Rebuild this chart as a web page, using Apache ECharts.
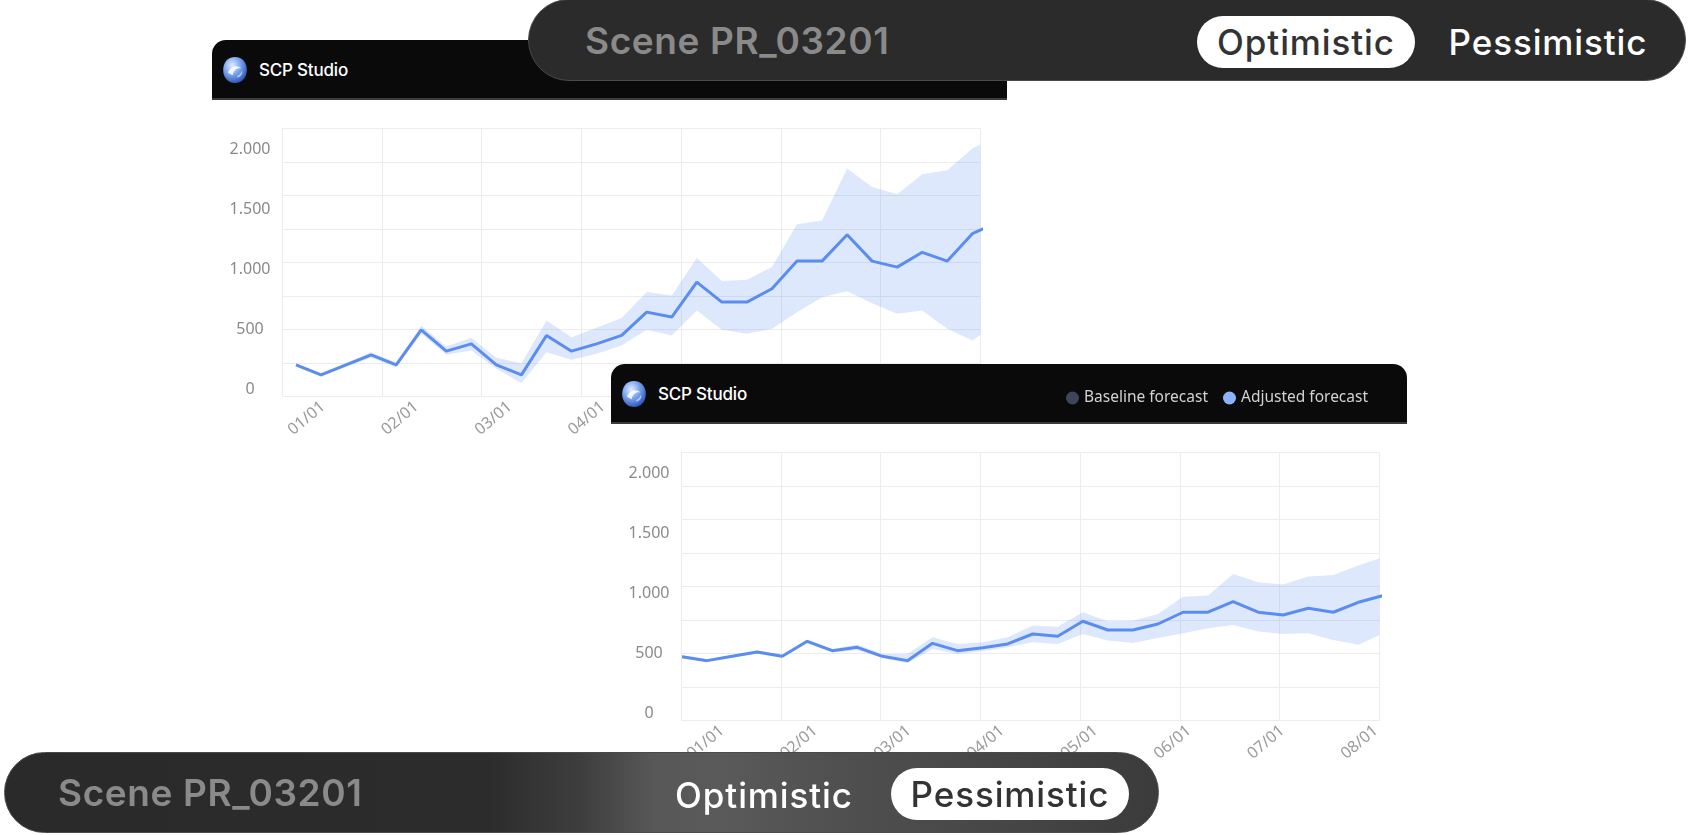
<!DOCTYPE html>
<html>
<head>
<meta charset="utf-8">
<script src="https://cdn.jsdelivr.net/npm/echarts@6/dist/echarts.min.js"></script>
<style>
html,body{margin:0;padding:0;width:1688px;height:835px;overflow:hidden;background:#ffffff;}
.card{position:absolute;background:#ffffff;}
.hdr{position:absolute;left:0;top:0;width:100%;height:58px;background:#0a0a0b;border-bottom:2.4px solid #3b3b3d;border-radius:14px 14px 0 0;}
.brand{position:absolute;left:10px;top:16px;height:28px;display:flex;align-items:center;font-family:Inter,"Noto Sans",sans-serif;font-weight:500;font-size:17px;color:#ffffff;letter-spacing:-0.2px;}
.brand svg{margin-right:11px;}
.chart{position:absolute;left:0;top:0;width:100%;height:100%;}
.pill{position:absolute;box-sizing:border-box;font-family:Inter,"Noto Sans",sans-serif;}
.pill .scene{position:absolute;top:0;height:100%;display:flex;align-items:center;font-size:37px;font-weight:600;color:#8a8a8a;letter-spacing:0.6px;}
.pill .opt{position:absolute;display:flex;align-items:center;justify-content:center;font-size:35px;font-weight:500;letter-spacing:0.9px;}
</style>
</head>
<body>

<div class="card" id="card1" style="left:212px;top:40px;width:795px;height:430px;z-index:1;">
  <div class="hdr" style="border-radius:14px 0 0 0;">
    <div class="brand"><svg width="26" height="28" viewBox="0 0 24 26"><defs><radialGradient id="lg1" cx="38%" cy="32%" r="78%"><stop offset="0" stop-color="#e2ecff"/><stop offset="0.4" stop-color="#86aef4"/><stop offset="1" stop-color="#1c46ad"/></radialGradient></defs><path d="M12 1C19 1 23 6.5 23 13C23 19.5 19 25 12 25C5 25 1 19.5 1 13C1 6.5 5 1 12 1Z" fill="url(#lg1)"/><path d="M5.5 15.5C7.5 9.5 13.5 7.5 18 11.5C14 10.5 10.8 12.8 9.8 17.8Z" fill="#ffffff" opacity="0.85"/><path d="M14 18.5C16.5 17.5 18 15.5 18.5 13.5C19.5 16.5 17.5 19.5 14 20Z" fill="#d6e4ff" opacity="0.7"/></svg>SCP Studio</div>
  </div>
  <div class="chart" id="chart1"></div>
</div>

<div class="pill" style="left:528px;top:-1px;width:1158px;height:82px;border-radius:41px;background:#2b2b2c;border:1.5px solid #4a4a4c;z-index:2;">
  <div class="scene" style="left:56px;">Scene PR_03201</div>
  <div class="opt" style="left:668px;top:16px;width:218px;height:52px;border-radius:26px;background:#ffffff;color:#333333;">Optimistic</div>
  <div class="opt" style="left:916px;top:16px;width:206px;height:52px;color:#ffffff;">Pessimistic</div>
</div>

<div class="card" id="card2" style="left:611px;top:364px;width:796px;height:480px;z-index:3;">
  <div class="hdr">
    <div class="brand"><svg width="26" height="28" viewBox="0 0 24 26"><defs><radialGradient id="lg2" cx="38%" cy="32%" r="78%"><stop offset="0" stop-color="#e2ecff"/><stop offset="0.4" stop-color="#86aef4"/><stop offset="1" stop-color="#1c46ad"/></radialGradient></defs><path d="M12 1C19 1 23 6.5 23 13C23 19.5 19 25 12 25C5 25 1 19.5 1 13C1 6.5 5 1 12 1Z" fill="url(#lg2)"/><path d="M5.5 15.5C7.5 9.5 13.5 7.5 18 11.5C14 10.5 10.8 12.8 9.8 17.8Z" fill="#ffffff" opacity="0.85"/><path d="M14 18.5C16.5 17.5 18 15.5 18.5 13.5C19.5 16.5 17.5 19.5 14 20Z" fill="#d6e4ff" opacity="0.7"/></svg>SCP Studio</div>
  </div>
  <div class="chart" id="chart2"></div>
</div>

<div class="pill" style="left:4px;top:752px;width:1155px;height:81px;border-radius:40.5px;background:linear-gradient(90deg,#2a2a2b 0%,#2c2c2d 42%,#3e3e3f 50%,#575758 56%,#5a5a5b 62%,#505051 72%,#454546 88%,#3b3b3c 100%);border:1.5px solid #4a4a4c;z-index:4;">
  <div class="scene" style="left:53px;">Scene PR_03201</div>
  <div class="opt" style="left:656px;top:16px;width:206px;height:52px;color:#ffffff;">Optimistic</div>
  <div class="opt" style="left:886px;top:15px;width:238px;height:52px;border-radius:26px;background:#ffffff;color:#333333;">Pessimistic</div>
</div>

<script>
// ---------------- data ----------------
const weeks = [0,1,2,3,4,5,6,7,8,9,10,11,12,13,14,15,16,17,18,19,20,21,22,23,24,25,26,27,28];
const monthLabels = ['01/01','02/01','03/01','04/01','05/01','06/01','07/01','08/01'];
const yTicks = [0, 500, 1000, 1500, 2000];
const seriesNames = ['Baseline forecast', 'Adjusted forecast'];

// Scenario: Optimistic (top chart)
const optimisticMid  = [205,122,205,289,205,497,319,380,205,122,450,319,380,450,644,603,894,728,728,839,1069,1069,1289,1069,1019,1142,1069,1297,1390];
const optimisticHigh = [219,136,222,311,225,533,358,431,264,219,575,436,514,595,811,783,1094,903,914,1019,1375,1408,1839,1686,1625,1792,1825,2006,2110];
const optimisticLow  = [192,108,189,264,186,464,289,325,172,55,311,247,297,367,497,450,658,497,464,506,644,769,817,719,631,658,506,408,550];

// Scenario: Pessimistic (bottom chart)
const pessimisticMid  = [473,440,476,512,476,601,523,551,476,440,584,523,548,579,662,643,768,695,695,745,843,843,932,843,820,876,843,926,982];
const pessimisticHigh = [485,452,488,524,488,616,538,575,495,495,634,579,593,634,732,723,843,768,773,829,973,982,1162,1093,1073,1140,1154,1232,1301];
const pessimisticLow  = [461,428,464,500,464,586,508,527,462,418,537,495,518,551,593,579,662,607,587,629,668,709,737,682,662,668,612,573,668];

// ---------------- layout ----------------
const GRID_W = 698.3, GRID_H = 268.2;
const PX_PER_WEEK = 25.05;
const LABEL_OFFSET_PX = 41, LABEL_STEP_PX = 93.4;
const LINE_COLOR = '#5b8def';
const BAND_COLOR = 'rgba(92,142,238,0.20)';

function fmtThousands(v){ return String(v).replace(/\B(?=(\d{3})+(?!\d))/g, '.'); }

function makeOption(mid, high, low, xStart, withLegend){
  const xMin = xStart;
  const xMax = xStart + GRID_W / PX_PER_WEEK;
  const labelVals = monthLabels.map((_, k) => xMin + (LABEL_OFFSET_PX + k * LABEL_STEP_PX) / PX_PER_WEEK);
  const lineData = weeks.map((w, i) => [w, mid[i]]);
  const gridLineStyle = {color:'#ececee', width:1};
  return {
    animation:false,
    grid:{left:70, top:88.5, width:GRID_W, height:GRID_H, containLabel:false, outerBoundsMode:'none'},
    legend:{
      show:withLegend,
      data:seriesNames, left:450, top:21, icon:'circle', itemWidth:13, itemHeight:13, itemGap:15,
      textStyle:{color:'#d2d2d4', fontSize:15.5, fontFamily:'"Noto Sans", sans-serif'},
      selectedMode:false
    },
    xAxis:[
      {type:'value', position:'top', min:0, max:7, interval:1,
        axisLine:{show:false}, axisTick:{show:false}, axisLabel:{show:false},
        splitLine:{show:true, lineStyle:gridLineStyle}},
      {type:'value', position:'bottom', min:xMin, max:xMax,
        axisLine:{show:false}, axisTick:{show:false}, splitLine:{show:false},
        axisLabel:{customValues:labelVals, rotate:40, margin:8, fontSize:16, color:'#9b9b9b',
          fontFamily:'"Noto Sans", sans-serif',
          formatter:function(v){
            const k = Math.round(((v - xMin) * PX_PER_WEEK - LABEL_OFFSET_PX) / LABEL_STEP_PX);
            return monthLabels[k] || '';
          }}}
    ],
    yAxis:[
      {type:'value', position:'right', min:0, max:8, interval:1,
        axisLine:{show:false}, axisTick:{show:false}, axisLabel:{show:false},
        splitLine:{show:true, lineStyle:gridLineStyle}},
      {type:'value', position:'left', min:-60, max:2173,
        axisLine:{show:false}, axisTick:{show:false}, splitLine:{show:false},
        axisLabel:{customValues:yTicks, align:'center', margin:32, fontSize:16, color:'#8a8a8a',
          fontFamily:'"Noto Sans", sans-serif', formatter:fmtThousands}}
    ],
    series:[
      {name:seriesNames[0], type:'line', xAxisIndex:1, yAxisIndex:1, data:[], symbol:'none',
        itemStyle:{color:'#3d4658'}, lineStyle:{color:'#3d4658'}},
      {name:'band', type:'custom', xAxisIndex:1, yAxisIndex:1, data:[[weeks[0], low[0]]],
        silent:true, clip:true, z:1,
        renderItem:function(params, api){
          const pts = [];
          for (let i = 0; i < weeks.length; i++) pts.push(api.coord([weeks[i], high[i]]));
          for (let i = weeks.length - 1; i >= 0; i--) pts.push(api.coord([weeks[i], low[i]]));
          const cs = params.coordSys;
          return {type:'polygon', shape:{points:pts}, style:{fill:BAND_COLOR},
            clipPath:{type:'rect', shape:{x:cs.x, y:cs.y, width:cs.width, height:cs.height}}};
        }},
      {name:seriesNames[1], type:'line', xAxisIndex:1, yAxisIndex:1, data:lineData, symbol:'none',
        itemStyle:{color:'#8cb3fa'}, lineStyle:{color:LINE_COLOR, width:3}, z:5}
    ]
  };
}

const c1 = echarts.init(document.getElementById('chart1'), null, {renderer:'canvas'});
c1.setOption(makeOption(optimisticMid, optimisticHigh, optimisticLow, -0.559, false));
const c2 = echarts.init(document.getElementById('chart2'), null, {renderer:'canvas'});
c2.setOption(makeOption(pessimisticMid, pessimisticHigh, pessimisticLow, -0.04, true));
</script>
</body>
</html>
